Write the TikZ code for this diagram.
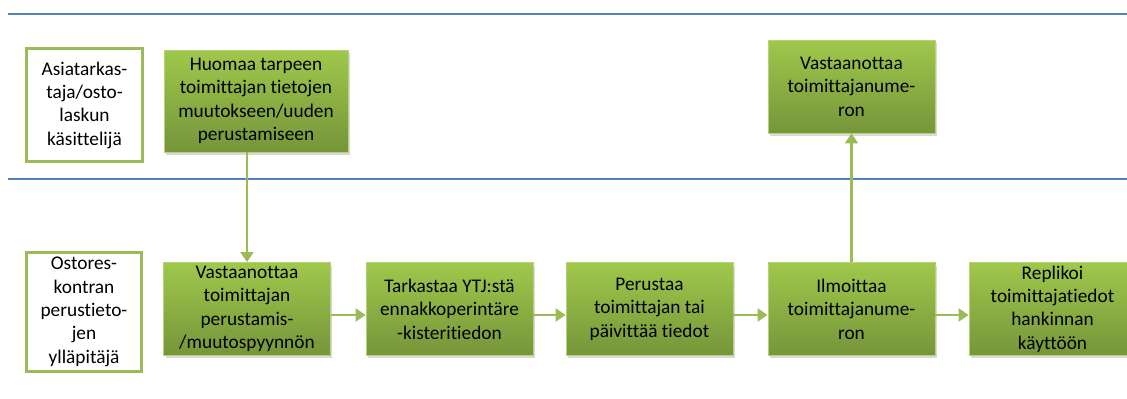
\documentclass[tikz,border=0pt]{standalone}
\usepackage{fontspec}
\setmainfont{Carlito}[Ligatures=NoCommon]
\usetikzlibrary{shadows,arrows.meta}
\definecolor{lanegreen}{HTML}{9BBB59}
\definecolor{boxtop}{HTML}{9FC84B}
\definecolor{boxbottom}{HTML}{76953A}
\definecolor{boxedge}{HTML}{B3D27A}
\definecolor{laneblue}{HTML}{4F81BD}
\begin{document}
\begin{tikzpicture}[x=0.02cm,y=-0.02cm,
    rolebox/.style={draw=lanegreen,line width=1.7pt,fill=white,align=center,inner sep=0pt,
        font=\fontsize{11}{13.3}\selectfont},
    taskbox/.style={draw=boxedge,line width=0.5pt,top color=boxtop,bottom color=boxbottom,
        align=center,inner sep=0pt,minimum width=3.34cm,minimum height=1.86cm,
        font=\fontsize{11}{13.3}\selectfont,
        drop shadow={shadow xshift=0.04cm,shadow yshift=-0.06cm,opacity=0.3}},
    flow/.style={draw=lanegreen,line width=1.2pt,-{Triangle[length=0.2cm,width=0.26cm]}}]
        \useasboundingbox (0,0) rectangle (1127,399);
        \draw[laneblue,line width=1.2pt] (8,14) -- (1127,14);
        \draw[laneblue,line width=1.2pt] (8,179) -- (1127,179);
        \node[rolebox,minimum width=2.34cm,minimum height=2.28cm] (asia) at (84.5,105) {Asiatarkas-\\taja/osto-\\laskun\\käsittelijä};
        \node[rolebox,minimum width=2.32cm,minimum height=2.38cm] (ostores) at (84,312) {Ostores-\\kontran\\perustieto-\\jen\\ylläpitäjä};
        \node[taskbox,minimum width=3.68cm,minimum height=2.04cm] (huomaa) at (256,101) {Huomaa tarpeen\\toimittajan tietojen\\muutokseen/uuden\\perustamiseen};
        \node[taskbox] (vastnumero) at (851.5,86.5) {Vastaanottaa\\toimittajanume-\\ron};
        \node[taskbox] (vastpyynto) at (247,309) {Vastaanottaa\\toimittajan\\perustamis-\\/muutospyynnön};
        \node[taskbox] (tarkastaa) at (449.5,309) {Tarkastaa YTJ:stä\\ennakkoperintäre\\-kisteritiedon};
        \node[taskbox] (perustaa) at (649.5,309) {Perustaa\\toimittajan tai\\päivittää tiedot};
        \node[taskbox] (ilmoittaa) at (851.5,309) {Ilmoittaa\\toimittajanume-\\ron};
        \node[taskbox] (replikoi) at (1052.5,309) {Replikoi\\toimittajatiedot\\hankinnan\\käyttöön};
        \draw[flow] (huomaa.south -| vastpyynto.north) -- (vastpyynto.north);
        \draw[flow] ([yshift=-0.12cm]vastpyynto.east) -- ([yshift=-0.12cm]tarkastaa.west);
        \draw[flow] ([yshift=-0.12cm]tarkastaa.east) -- ([yshift=-0.12cm]perustaa.west);
        \draw[flow] ([yshift=-0.12cm]perustaa.east) -- ([yshift=-0.12cm]ilmoittaa.west);
        \draw[flow] ([yshift=-0.12cm]ilmoittaa.east) -- ([yshift=-0.12cm]replikoi.west);
        \draw[flow] (ilmoittaa.north) -- (vastnumero.south);
\end{tikzpicture}
\end{document}
